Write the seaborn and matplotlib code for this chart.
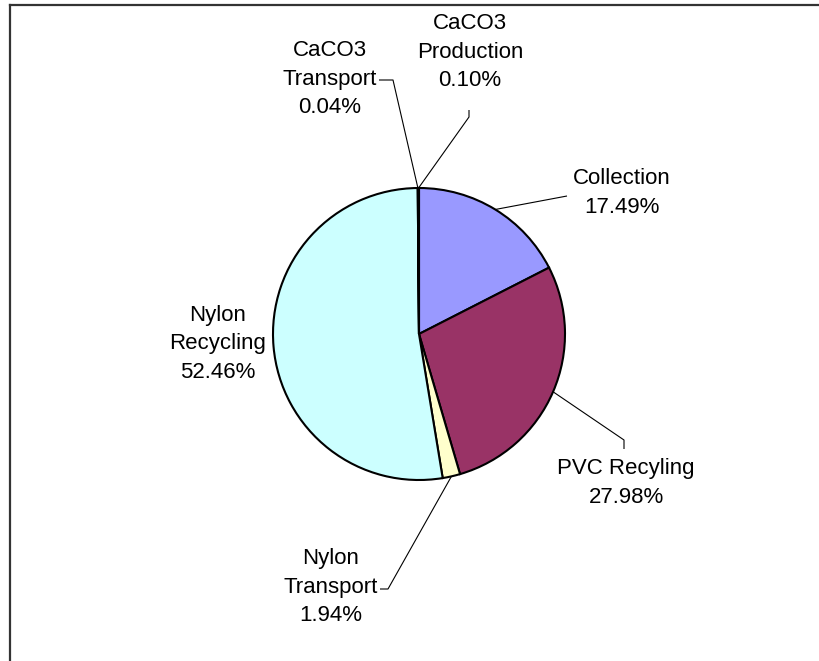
import numpy as np
import matplotlib
matplotlib.use("Agg")
import matplotlib.pyplot as plt
import seaborn as sns

# Share of each process step
categories = ["Collection", "PVC Recyling", "Nylon Transport",
              "Nylon Recycling", "CaCO3 Transport", "CaCO3 Production"]
shares = [17.49, 27.98, 1.94, 52.46, 0.04, 0.10]
label_lines = [["Collection"], ["PVC Recyling"], ["Nylon", "Transport"],
               ["Nylon", "Recycling"], ["CaCO3", "Transport"], ["CaCO3", "Production"]]
colors = ["#9999FF", "#993366", "#FFFFCC", "#CCFFFF", "#660066", "#FF8080"]

sns.set_theme(style="white")
plt.rcParams["font.family"] = ["Liberation Sans", "DejaVu Sans"]

W, H = 819, 661
fig = plt.figure(figsize=(W / 100, H / 100), dpi=100)
ax = fig.add_axes([0, 0, 1, 1])


def fy(y):
    # convert a top-down pixel row to the axes' bottom-up coordinate
    return H - y


cx, cy, r = 419, fy(334), 146
wedges, _ = ax.pie(shares, colors=colors, startangle=90, counterclock=False,
                   center=(cx, cy), radius=r,
                   wedgeprops=dict(edgecolor="black", linewidth=1.5))
ax.set_xlim(0, W)
ax.set_ylim(0, H)
ax.set_aspect("equal")
ax.axis("off")

# label block centre and leader path (elbow points) for every slice
layout = {
    "Collection":        dict(text=(622, 193), path=[(567, 196)]),
    "PVC Recyling":      dict(text=(626, 483), path=[(624, 440), (624, 449)]),
    "Nylon Transport":   dict(text=(331, 587), path=[(388, 589), (380, 589)]),
    "Nylon Recycling":   dict(text=(218, 344), path=None),
    "CaCO3 Transport":   dict(text=(330, 79),  path=[(393, 80), (379, 80)]),
    "CaCO3 Production":  dict(text=(470, 52),  path=[(469, 117), (469, 110)]),
}

cum = np.cumsum([0] + shares[:-1])
total = sum(shares)
for name, lines, start, val in zip(categories, label_lines, cum, shares):
    spec = layout[name]
    tx, ty = spec["text"]
    ax.text(tx, fy(ty), "\n".join(lines + [f"{val:.2f}%"]), ha="center", va="center",
            fontsize=16, linespacing=1.45, color="black")
    if spec["path"]:
        mid = np.deg2rad(90 - 360 * (start + val / 2) / total)
        px = [cx + r * np.cos(mid)] + [p[0] for p in spec["path"]]
        py = [cy + r * np.sin(mid)] + [fy(p[1]) for p in spec["path"]]
        ax.plot(px, py, color="black", linewidth=0.8, solid_capstyle="butt")

# chart border (left and top edges)
ax.plot([10, 10], [0, fy(5)], color="#333333", linewidth=1.6, solid_capstyle="projecting")
ax.plot([10, W], [fy(5), fy(5)], color="#333333", linewidth=1.6, solid_capstyle="projecting")

fig.savefig("out.png", dpi=100, facecolor="white")
